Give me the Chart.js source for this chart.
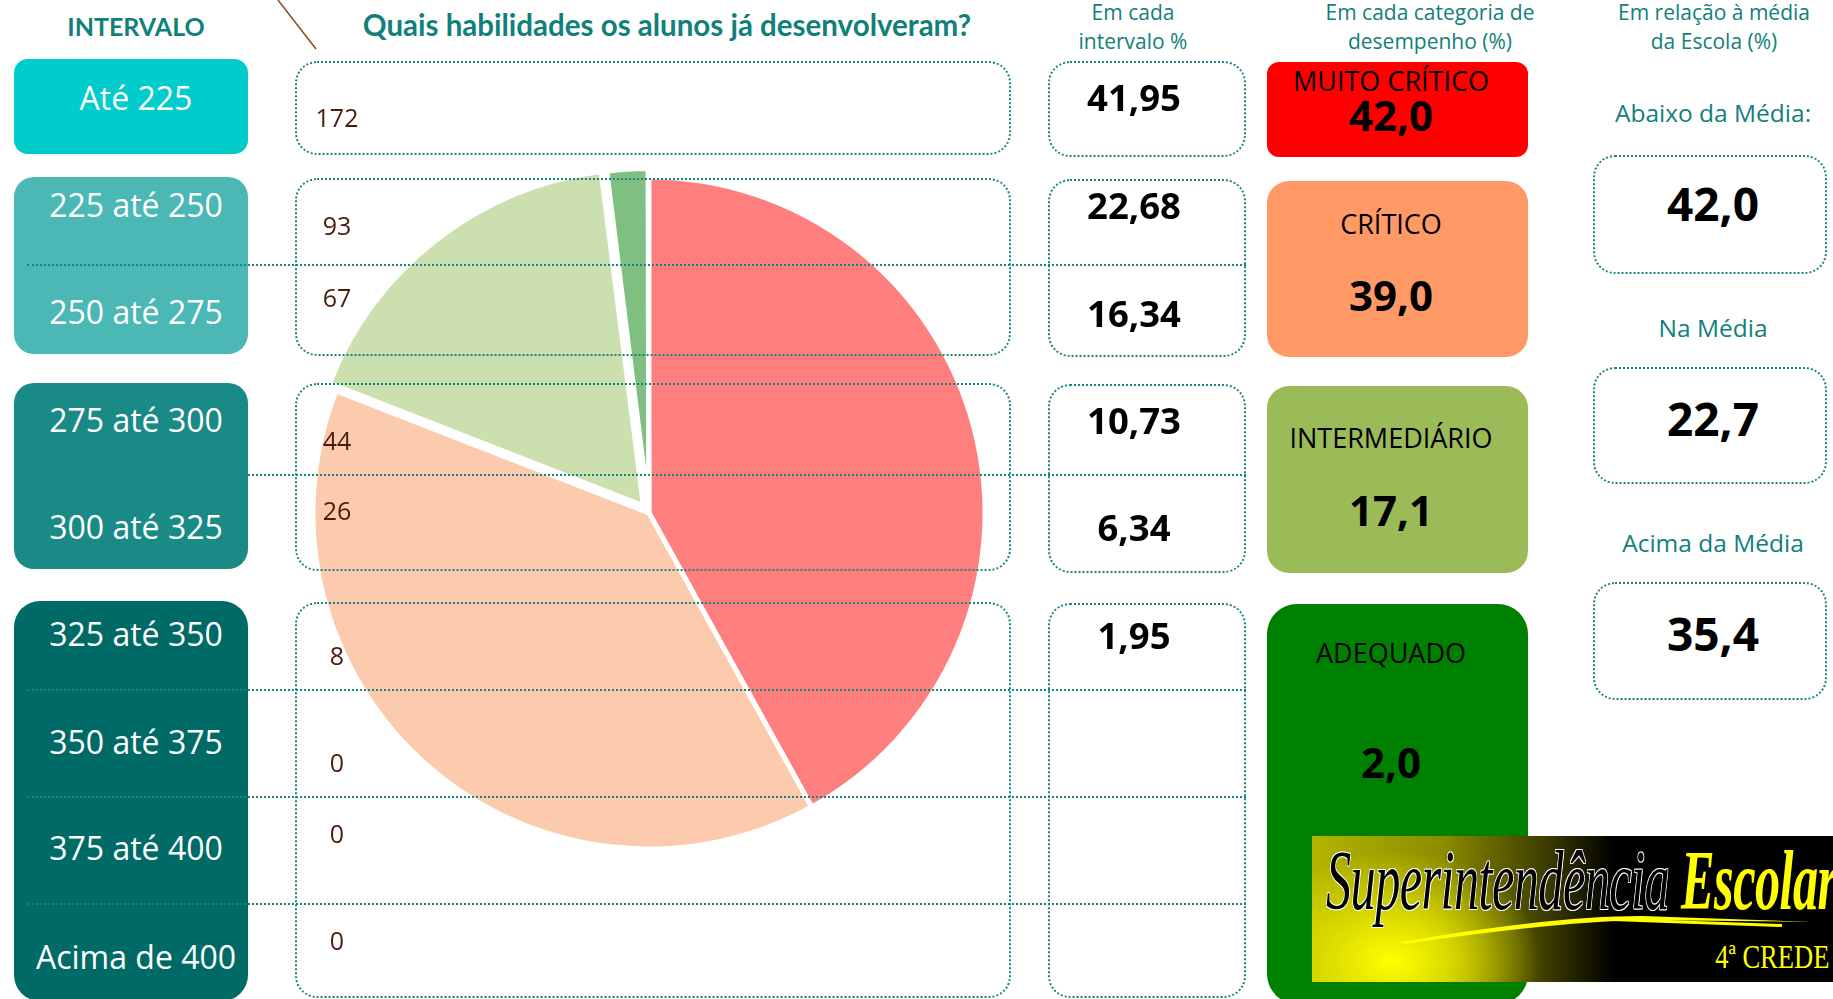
<!DOCTYPE html>
<html>
<head>
<meta charset="utf-8">
<script src="https://cdn.jsdelivr.net/npm/chart.js@4/dist/chart.umd.min.js"></script>
<style>
  body { margin: 0; background: #fff; }
  #page { position: relative; width: 1833px; height: 999px; overflow: hidden; background: #fff; font-family: 'Open Sans', sans-serif; }
  .abs { position: absolute; box-sizing: border-box; }
  .txt { position: absolute; white-space: nowrap; transform: translate(-50%, -50%); line-height: 1; }
  .dot { border: 2px dotted #1a8482; border-radius: 22px; z-index: 2; }
  .hline { border-top: 2px dotted #1a8482; height: 0; z-index: 2; }
  #pie { position: absolute; left: 249px; top: 113px; z-index: 1; }
  .head { color: #118079; font-size: 21px; z-index: 3; }
  .big { font-weight: 700; color: #000; z-index: 3; }
  #logo { position: absolute; left: 1312px; top: 836px; width: 521px; height: 146px; z-index: 4; overflow: hidden;
    background:
      radial-gradient(ellipse 150px 110px at 80px 125px, rgba(255,255,0,1) 0%, rgba(235,235,0,0.8) 40%, rgba(200,200,0,0) 100%),
      linear-gradient(to right, #b4b400 0%, #8c8c00 25%, #3c3c00 45%, #000 58%, #000 100%); }
</style>
</head>
<body>
<div id="page">
  <canvas id="pie" width="800" height="800"></canvas>
  <svg class="abs" style="left:0;top:0;z-index:3" width="400" height="60">
    <line x1="278" y1="0" x2="316" y2="49" stroke="#8a4a1c" stroke-width="1.5"/>
  </svg>
  <div id="logo">
    <div class="abs" style="left:14px;top:-4px;font-family:'Liberation Serif',serif;font-style:italic;font-size:84px;transform:scaleX(0.6);transform-origin:0 0;white-space:nowrap;letter-spacing:-1px">
      <span style="color:#000;text-shadow:1px 1px 0 #fff,-1px -1px 0 #fff,1px -1px 0 #fff,-1px 1px 0 #fff">Superintendência</span>
      <span style="color:#ffff00;font-weight:700">Escolar</span>
    </div>
    <svg class="abs" style="left:0;top:0" width="521" height="146">
      <path d="M88 106 Q240 80 330 80 L500 86 L330 84 Q240 86 92 108 Z" fill="#ffff00"/>
      <path d="M300 82 L470 88 L470 91 L300 85 Z" fill="#ffff00"/>
    </svg>
    <div class="abs" style="right:4px;top:102px;font-family:'Liberation Serif',serif;font-size:34px;color:#ffff00;transform:scaleX(0.78);transform-origin:100% 0;white-space:nowrap">4ª CREDE</div>
  </div>
</div>
<script>
// Intervalos de proficiência
var intervals = ['Até 225', '225 até 250', '250 até 275', '275 até 300', '300 até 325',
                 '325 até 350', '350 até 375', '375 até 400', 'Acima de 400'];
var intervalCounts = [172, 93, 67, 44, 26, 8, 0, 0, 0];
var intervalPercents = ['41,95', '22,68', '16,34', '10,73', '6,34', '1,95'];

// Categorias de desempenho (%)
var categories = ['MUITO CRÍTICO', 'CRÍTICO', 'INTERMEDIÁRIO', 'ADEQUADO'];
var categoryValues = [42.0, 39.0, 17.1, 2.0];

// Em relação à média da escola (%)
var schoolLabels = ['Abaixo da Média:', 'Na Média', 'Acima da Média'];
var schoolValues = [42.0, 22.7, 35.4];

var page = document.getElementById('page');

function fmt(v) {
    return v.toFixed(1).replace('.', ',');
}

function addBox(x, y, w, h, cls, style) {
    var d = document.createElement('div');
    d.className = 'abs ' + (cls || '');
    d.style.left = x + 'px';
    d.style.top = y + 'px';
    d.style.width = w + 'px';
    d.style.height = h + 'px';
    if (style) d.style.cssText += style;
    page.appendChild(d);
    return d;
}

function addText(cx, cy, text, cls, style) {
    var d = document.createElement('div');
    d.className = 'txt ' + (cls || '');
    d.style.left = cx + 'px';
    d.style.top = cy + 'px';
    d.textContent = text;
    if (style) d.style.cssText += style;
    page.appendChild(d);
    return d;
}

// Cabeçalhos
addText(136, 26, 'INTERVALO', '', "font-family:Lato;font-weight:700;font-size:25px;color:#118079;z-index:3");
addText(667, 25, 'Quais habilidades os alunos já desenvolveram?', '', "font-family:Lato;font-weight:700;font-size:29.5px;color:#118079;z-index:3");
addText(1133, 12, 'Em cada', 'head');
addText(1133, 41, 'intervalo %', 'head');
addText(1430, 12, 'Em cada categoria de', 'head');
addText(1430, 41, 'desempenho (%)', 'head');
addText(1714, 12, 'Em relação à média', 'head');
addText(1714, 41, 'da Escola (%)', 'head');

// Coluna de intervalos
var leftBoxes = [
    { y: 59, h: 95, color: '#00cccc', r: 14 },
    { y: 177, h: 177, color: '#4bb8b5', r: 20 },
    { y: 383, h: 186, color: '#1a8a86', r: 20 },
    { y: 601, h: 400, color: '#006b66', r: 26 }
];
leftBoxes.forEach(function(b) {
    addBox(14, b.y, 234, b.h, '', 'background:' + b.color + ';border-radius:' + b.r + 'px;z-index:1');
});
var rowY = [98, 205, 312, 420, 527, 634, 742, 848, 957];
intervals.forEach(function(t, i) {
    addText(136, rowY[i], t, '', 'color:#fff;font-size:32px;z-index:3');
});

// Caixas pontilhadas (centro e % por intervalo)
var dotRows = [[61, 94], [178, 178], [383, 188], [602, 396]];
var dotRows3 = [[61, 96], [179, 178], [384, 189], [603, 395]];
dotRows.forEach(function(r) { addBox(295, r[0], 716, r[1], 'dot'); });
dotRows3.forEach(function(r) { addBox(1048, r[0], 198, r[1], 'dot'); });
[265, 475, 690, 797, 904].forEach(function(y) { addBox(27, y - 1, 1219, 2, 'hline'); });

var countY = [117, 225, 297, 440, 510, 655, 762, 833, 940];
intervalCounts.forEach(function(v, i) {
    addText(337, countY[i], String(v), '', 'color:#4a1c0c;font-size:25px;z-index:3');
});
var pctY = [97, 205, 313, 420, 527, 635];
intervalPercents.forEach(function(v, i) {
    addText(1134, pctY[i], v, 'big', 'font-size:36.5px');
});

// Categorias de desempenho
var catBoxes = [
    { y: 62, h: 95, color: '#ff0000', ly: 80, vy: 115, r: 12 },
    { y: 181, h: 176, color: '#ff9966', ly: 223, vy: 295, r: 22 },
    { y: 386, h: 187, color: '#9bbb59', ly: 437, vy: 510, r: 22 },
    { y: 604, h: 400, color: '#008000', ly: 652, vy: 762, r: 30 }
];
categories.forEach(function(c, i) {
    var b = catBoxes[i];
    addBox(1267, b.y, 261, b.h, '', 'background:' + b.color + ';border-radius:' + b.r + 'px;z-index:1');
    addText(1391, b.ly, c, '', 'color:#000;font-size:27px;z-index:3');
    addText(1391, b.vy, fmt(categoryValues[i]), 'big', 'font-size:42px');
});

// Em relação à média
var schoolBoxes = [[155, 119, 113, 203], [367, 117, 328, 418], [582, 118, 543, 633]];
schoolLabels.forEach(function(l, i) {
    var s = schoolBoxes[i];
    addBox(1593, s[0], 234, s[1], 'dot');
    addText(1713, s[2], l, '', 'color:#118079;font-size:24.5px;z-index:3');
    addText(1713, s[3], fmt(schoolValues[i]), 'big', 'font-size:46px');
});

// Gráfico de pizza
var pieColors = ['#ff7f7f', '#fccbad', '#ccdfae', '#7fbf7f'];
var ctx = document.getElementById('pie').getContext('2d');
new Chart(ctx, {
    type: 'pie',
    data: {
        labels: categories,
        datasets: [{
            data: categoryValues,
            backgroundColor: pieColors,
            borderColor: '#ffffff',
            borderWidth: 5,
            offset: [0, 0, 36, 18],
            radius: 336
        }]
    },
    options: {
        responsive: false,
        animation: false,
        layout: { padding: 0 },
        plugins: {
            legend: { display: false },
            tooltip: { enabled: false }
        }
    }
});
</script>
</body>
</html>
